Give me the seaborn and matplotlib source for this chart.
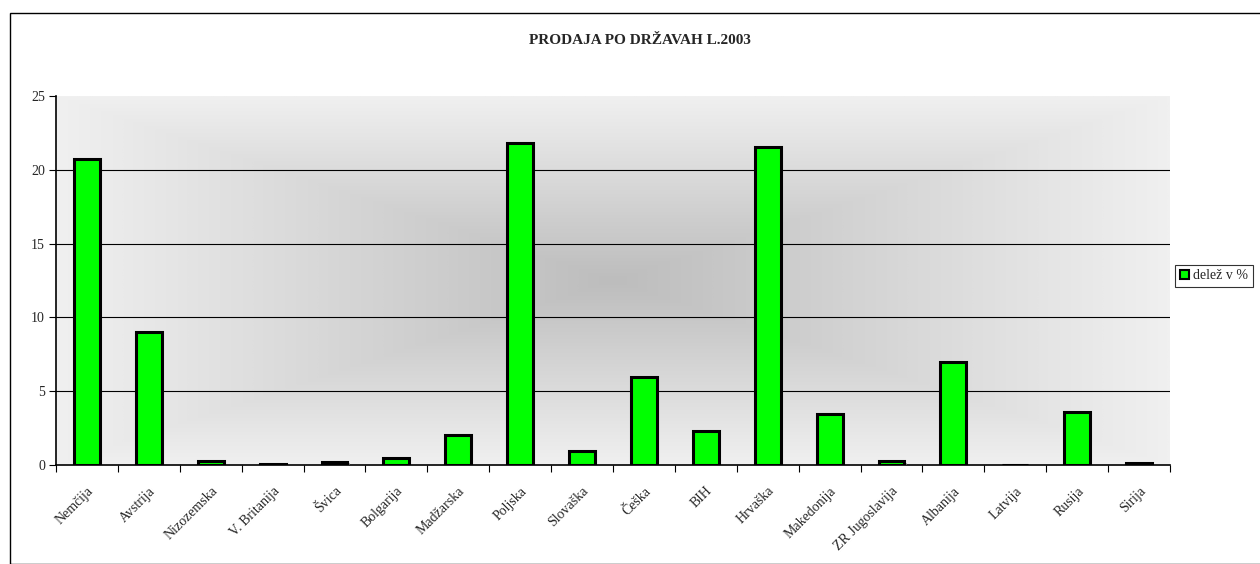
import numpy as np
import pandas as pd
import matplotlib
matplotlib.use("Agg")
import matplotlib.pyplot as plt
import matplotlib.patheffects as pe
import seaborn as sns
from matplotlib.patches import Patch, Rectangle
from matplotlib.colors import LinearSegmentedColormap

categories = ["Nemčija", "Avstrija", "Nizozemska", "V. Britanija", "Švica", "Bolgarija",
              "Madžarska", "Poljska", "Slovaška", "Češka", "BIH", "Hrvaška",
              "Makedonija", "ZR Jugoslavija", "Albanija", "Latvija", "Rusija", "Sirija"]
values = [20.7, 9.0, 0.25, 0.05, 0.2, 0.45, 2.05, 21.8, 0.95, 5.95, 2.3, 21.55,
          3.45, 0.25, 6.95, 0.0, 3.6, 0.15]
yticks = [0, 5, 10, 15, 20, 25]
title = "PRODAJA PO DRŽAVAH L.2003"
series_name = "delež v %"

sns.set_theme(style="white")
plt.rcParams['font.family'] = ['Liberation Serif', 'DejaVu Serif']

fig = plt.figure(figsize=(12.6, 5.64), dpi=100)
ax = fig.add_axes([56/1260, 1 - 465/564, (1170-56)/1260, (465-96)/564])

# gradient background (from center)
ny, nx = 300, 600
yy, xx = np.mgrid[-1:1:ny*1j, -1:1:nx*1j]
t = np.maximum(np.abs(xx), np.abs(yy))
cmap = LinearSegmentedColormap.from_list("g", ["#bdbdbd", "#f0f0f0"])
ax.imshow(t, cmap=cmap, extent=[0, 1, 0, 1], transform=ax.transAxes,
          aspect='auto', zorder=0, interpolation='bilinear')

df = pd.DataFrame({"country": categories, "value": values})
sns.barplot(data=df, x="country", y="value", color="#00ff00", saturation=1,
            edgecolor="black", linewidth=2.2, width=0.42, ax=ax, zorder=3)
for p in ax.patches:
    p.set_path_effects([pe.SimplePatchShadow(offset=(1.5, -1), shadow_rgbFace="#808080", alpha=0.6),
                        pe.Normal()])

ax.set_xlim(-0.5, len(categories) - 0.5)
ax.set_ylim(0, 25)
ax.set_yticks(yticks)
ax.set_yticklabels([str(v) for v in yticks], fontsize=10)
for v in yticks[1:-1]:
    ax.axhline(v, color="black", linewidth=0.8, zorder=1)

ax.set_xticks(range(len(categories)))
ax.set_xticklabels(categories, rotation=45, ha="right", rotation_mode="anchor", fontsize=10)
ax.set_xticks(np.arange(-0.5, len(categories), 1), minor=True)
ax.tick_params(axis="x", which="major", length=0, pad=14)
ax.tick_params(axis="x", which="minor", length=5, width=0.8, color="black", direction="out", bottom=True)
ax.tick_params(axis="y", length=5, width=0.8, color="black", direction="out", left=True, pad=3)
ax.set_xlabel("")
ax.set_ylabel("")

for s in ["top", "right"]:
    ax.spines[s].set_visible(False)
for s in ["left", "bottom"]:
    ax.spines[s].set_visible(True)
    ax.spines[s].set_color("black")
    ax.spines[s].set_linewidth(1.2)

fig.text(640/1260, 1 - 40/564, title, ha="center", va="center", fontsize=11, fontweight="bold")

leg = fig.legend(handles=[Patch(facecolor="#00ff00", edgecolor="black", linewidth=1.5, label=series_name)],
                 loc="center", bbox_to_anchor=(1214/1260, 1 - 276/564), fontsize=10,
                 frameon=True, fancybox=False, handlelength=0.7, handleheight=0.7,
                 handletextpad=0.3, borderpad=0.35)
leg.get_frame().set_edgecolor("black")
leg.get_frame().set_linewidth(0.8)

fig.patches.append(Rectangle((10/1260, 0), 1.2, 1 - 13/564, transform=fig.transFigure,
                             fill=False, edgecolor="black", linewidth=1))

fig.savefig("out.png", dpi=100)
